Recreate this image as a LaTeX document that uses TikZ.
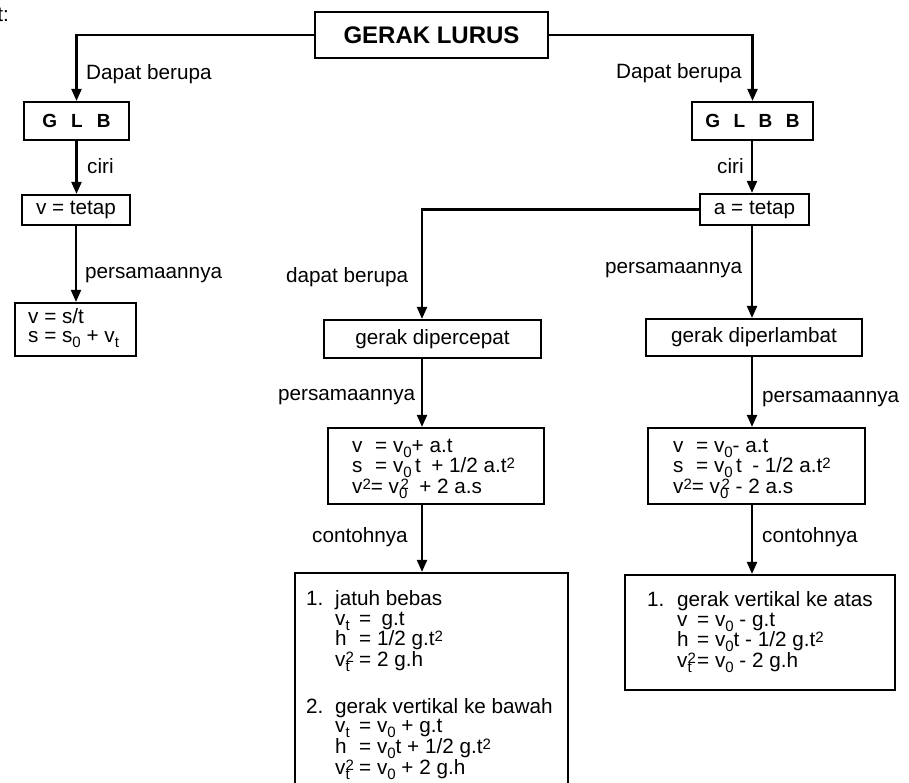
\documentclass[tikz,border=0pt]{standalone}
\usepackage{fontspec}
\setmainfont{Liberation Sans}
\usetikzlibrary{arrows.meta}
\newcommand\dn[1]{\smash{\raisebox{-5pt}{\fontsize{15}{15}\selectfont #1}}}
\newcommand\up[1]{\smash{\raisebox{4pt}{\fontsize{15}{15}\selectfont #1}}}
\newcommand\vtt{v\makebox[0pt][l]{\dn{t}}\up{2}}
\newcommand\vzz{v\makebox[0pt][l]{\dn{0}}\hspace{1.5pt}\up{2}}
\tikzset{
  box/.style={draw, line width=2.2pt, inner sep=0pt, font=\fontsize{20.7}{24}\selectfont},
  lbl/.style={anchor=west, inner sep=0pt, font=\fontsize{20.7}{24}\selectfont},
  txt/.style={anchor=base west, inner sep=0pt, font=\fontsize{20.7}{19.5}\selectfont},
  arr/.style={line width=2.2pt, -{Triangle[length=12pt,width=10pt]}},
}
\begin{document}
\begin{tikzpicture}[x=1pt,y=-1pt]
\useasboundingbox (0,0) rectangle (909,783);
\clip (0,0) rectangle (909,783);
\fill[white] (0,0) rectangle (909,783);

\node[lbl, anchor=east] (frag) at (9,15) {t:};

% boxes
\node[box, minimum width=233pt, minimum height=46pt, font=\fontsize{24}{28}\bfseries] (title) at (431.5,35) {GERAK LURUS};
\node[box, minimum width=105pt, minimum height=38pt, font=\fontsize{19}{22}\bfseries] (glb) at (76.5,121) {G\hspace{14pt}L\hspace{14pt}B};
\node[box, minimum width=121pt, minimum height=38pt, font=\fontsize{19}{22}\bfseries] (glbb) at (752.5,121) {G\hspace{13.5pt}L\hspace{13.5pt}B\hspace{13.5pt}B};
\node[box, minimum width=108pt, minimum height=30pt] (vtetap) at (76,210) {v = tetap};
\node[box, minimum width=109pt, minimum height=31pt] (atetap) at (754.5,209.5) {a = tetap};
\node[box, minimum width=121pt, minimum height=53pt] (vst) at (75.5,329.5) {};
\node[box, minimum width=217pt, minimum height=38pt] (dpc) at (432.5,339) {gerak dipercepat};
\node[box, minimum width=216pt, minimum height=37pt] (dpl) at (754,337.5) {gerak diperlambat};
\node[box, minimum width=216pt, minimum height=76pt] (eqL) at (436,466) {};
\node[box, minimum width=217pt, minimum height=76pt] (eqR) at (756.5,466) {};
\node[box, minimum width=273pt, minimum height=227pt] (exL) at (431.5,686.5) {};
\node[box, minimum width=270pt, minimum height=115pt] (exR) at (760,632.5) {};

% box texts
\node[txt] (vstT) at (28,323) {\begin{tabular}[t]{@{}l@{}}
v = s/t\\
s = s\dn{0} + v\dn{t}
\end{tabular}};

\node[txt] (eqLT) at (352,452) {\begin{tabular}[t]{@{}l@{}}
\makebox[23pt][l]{v}= v\dn{0}+ a.t\\
\makebox[23pt][l]{s}= v\dn{0}\,t\enspace + 1/2 a.t\up{2}\\
v\up{2}= \vzz\enspace + 2 a.s
\end{tabular}};

\node[txt] (eqRT) at (673,452) {\begin{tabular}[t]{@{}l@{}}
\makebox[23pt][l]{v}= v\dn{0}- a.t\\
\makebox[23pt][l]{s}= v\dn{0}\,t\enspace - 1/2 a.t\up{2}\\
v\up{2}= \vzz\ - 2 a.s
\end{tabular}};

\node[txt] (exLT) at (306,605.5) {\begin{tabular}[t]{@{}l@{}}
\makebox[29pt][l]{1.}jatuh bebas\\
\hspace{29pt}\makebox[24pt][l]{v\dn{t}}=\enspace g.t\\
\hspace{29pt}\makebox[24pt][l]{h}= 1/2 g.t\up{2}\\
\hspace{29pt}\makebox[24pt][l]{\vtt}= 2 g.h\\[25.5pt]
\makebox[29pt][l]{2.}gerak vertikal ke bawah\\
\hspace{29pt}\makebox[24pt][l]{v\dn{t}}= v\dn{0} + g.t\\
\hspace{29pt}\makebox[24pt][l]{h}= v\dn{0}t + 1/2 g.t\up{2}\\
\hspace{29pt}\makebox[24pt][l]{\vtt}= v\dn{0} + 2 g.h
\end{tabular}};

\node[txt] (exRT) at (647,606.5) {\begin{tabular}[t]{@{}l@{}}
\makebox[30pt][l]{1.}gerak vertikal ke atas\\
\hspace{30pt}\makebox[20pt][l]{v}= v\dn{0} - g.t\\
\hspace{30pt}\makebox[20pt][l]{h}= v\dn{0}t - 1/2 g.t\up{2}\\
\hspace{30pt}\makebox[20pt][l]{\vtt}= v\dn{0} - 2 g.h
\end{tabular}};

% labels
\node[lbl] (lA) at (86,74.5) {Dapat berupa};
\node[lbl] (lB) at (616,73) {Dapat berupa};
\node[lbl] (lC) at (87,166.5) {ciri};
\node[lbl] (lD) at (717,166) {ciri};
\node[lbl] (lE) at (85,275) {persamaannya};
\node[lbl] (lF) at (286,277) {dapat berupa};
\node[lbl] (lG) at (605,270) {persamaannya};
\node[lbl] (lH) at (278,397) {persamaannya};
\node[lbl] (lI) at (762,399) {persamaannya};
\node[lbl] (lJ) at (312,537) {contohnya};
\node[lbl] (lK) at (762,537) {contohnya};

% connectors
\coordinate (xm) at (422,0);
\coordinate (xr) at (752,0);
\draw[arr] (title.west) -| (glb.north);
\draw[arr] (title.east) -| (glbb.north);
\draw[arr] (glb.south) -- (glb.south |- vtetap.north);
\draw[arr] (vtetap.south) -- (vtetap.south |- vst.north);
\draw[arr] (xr |- glbb.south) -- (xr |- atetap.north);
\draw[arr] (atetap.west) -| (xm |- dpc.north);
\draw[arr] (xr |- atetap.south) -- (xr |- dpl.north);
\draw[arr] (xm |- dpc.south) -- (xm |- eqL.north);
\draw[arr] (xm |- eqL.south) -- (xm |- exL.north);
\draw[arr] (xr |- dpl.south) -- (xr |- eqR.north);
\draw[arr] (xr |- eqR.south) -- (xr |- exR.north);
\end{tikzpicture}
\end{document}
